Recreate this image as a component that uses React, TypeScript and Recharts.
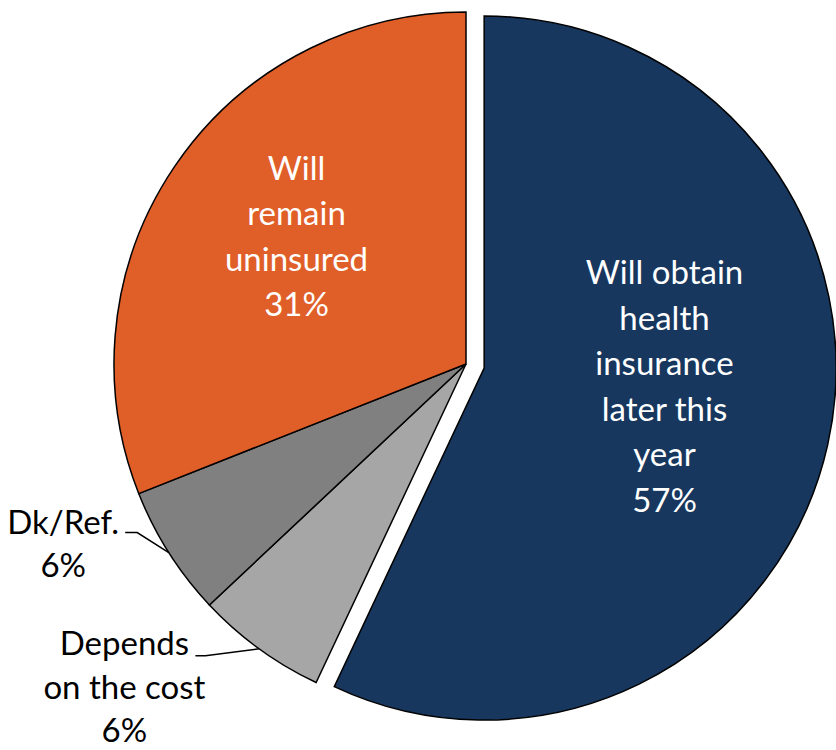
import React from 'react';
import { Cell, Pie, PieChart } from 'recharts';

const categories = [
  'Will obtain health insurance later this year',
  'Depends on the cost',
  'Dk/Ref.',
  'Will remain uninsured',
];
const shares = [57, 6, 6, 31];
const labelLines = [
  ['Will obtain', 'health', 'insurance', 'later this', 'year'],
  ['Depends', 'on the cost'],
  ['Dk/Ref.'],
  ['Will', 'remain', 'uninsured'],
];
const colors = ['#17375E', '#A6A6A6', '#808080', '#E05E27'];
const explodedIndex = 0;

const data = categories.map((name, i) => ({ name, value: shares[i] }));

const CX = 466;
const CY = 364;
const R = 352;
const EXPLODE = 18.6;
const FONT = 'Lato, "Open Sans", sans-serif';
const FONT_SIZE = 33;
const LINE_H = 45.5;
const OUT_LINE_H = 43.5;
const RAD = Math.PI / 180;

// explode offset along the mid angle of the pulled-out slice
const total = shares.reduce((a, b) => a + b, 0);
const explodeMid = 90 - ((shares[explodedIndex] / total) * 360) / 2;
const EX = Math.cos(explodeMid * RAD) * EXPLODE;
const EY = -Math.sin(explodeMid * RAD) * EXPLODE;

// label placement per slice (relative to the slice geometry)
type Place =
  | { kind: 'inside'; k: number; dx: number; dy: number }
  | { kind: 'outside'; elbow: [number, number]; end: [number, number]; tx: number; ty: number };

const placement: Place[] = [
  { kind: 'inside', k: 0.5, dx: 8.6, dy: -8.4 },
  { kind: 'outside', elbow: [-53.7, 7], end: [-63.7, 7], tx: -134.7, ty: 6.5 },
  { kind: 'outside', elbow: [-31.6, -20.1], end: [-43.6, -20.1], tx: -105.6, ty: -19.1 },
  { kind: 'inside', k: 0.6, dx: 5.2, dy: 2.9 },
];

const renderLabel = (show: (i: number) => boolean) => (props: any) => {
  const { cx, cy, midAngle, outerRadius, index } = props;
  if (!show(index)) return null;
  const lines = [...labelLines[index], `${shares[index]}%`];
  const p = placement[index];
  const cos = Math.cos(-midAngle * RAD);
  const sin = Math.sin(-midAngle * RAD);
  if (p.kind === 'inside') {
    const ax = cx + cos * outerRadius * p.k + p.dx;
    const ay = cy + sin * outerRadius * p.k + p.dy;
    const first = ay - ((lines.length - 1) / 2) * LINE_H;
    return (
      <text
        key={`l-${index}`}
        x={ax}
        y={first}
        textAnchor="middle"
        fill="#fff"
        fontFamily={FONT}
        fontSize={FONT_SIZE}
      >
        {lines.map((t, i) => (
          <tspan key={i} x={ax} y={first + i * LINE_H}>
            {t}
          </tspan>
        ))}
      </text>
    );
  }
  const px = cx + cos * outerRadius;
  const py = cy + sin * outerRadius;
  const tx = px + p.tx;
  const ty = py + p.ty;
  return (
    <g key={`l-${index}`}>
      <polyline
        points={`${px},${py} ${px + p.elbow[0]},${py + p.elbow[1]} ${px + p.end[0]},${py + p.end[1]}`}
        fill="none"
        stroke="#000"
        strokeWidth={1.5}
      />
      <text x={tx} y={ty} textAnchor="middle" fill="#000" fontFamily={FONT} fontSize={FONT_SIZE}>
        {lines.map((t, i) => (
          <tspan key={i} x={tx} y={ty + i * OUT_LINE_H}>
            {t}
          </tspan>
        ))}
      </text>
    </g>
  );
};

export default function App() {
  return (
    <div style={{ position: 'absolute', left: 0, top: 0 }}>
      <PieChart width={836} height={750} margin={{ top: 0, right: 0, bottom: 0, left: 0 }}>
        <Pie
          data={data}
          dataKey="value"
          nameKey="name"
          cx={CX}
          cy={CY}
          outerRadius={R}
          startAngle={90}
          endAngle={-270}
          labelLine={false}
          label={renderLabel((i) => i !== explodedIndex)}
          isAnimationActive={false}
        >
          {data.map((d, i) => (
            <Cell
              key={d.name}
              fill={i === explodedIndex ? 'none' : colors[i]}
              stroke={i === explodedIndex ? 'none' : '#000'}
              strokeWidth={1.5}
            />
          ))}
        </Pie>
        <Pie
          data={data}
          dataKey="value"
          nameKey="name"
          cx={CX + EX}
          cy={CY + EY}
          outerRadius={R}
          startAngle={90}
          endAngle={-270}
          labelLine={false}
          label={renderLabel((i) => i === explodedIndex)}
          isAnimationActive={false}
        >
          {data.map((d, i) => (
            <Cell
              key={d.name}
              fill={i === explodedIndex ? colors[i] : 'none'}
              stroke={i === explodedIndex ? '#000' : 'none'}
              strokeWidth={1.5}
            />
          ))}
        </Pie>
      </PieChart>
    </div>
  );
}
